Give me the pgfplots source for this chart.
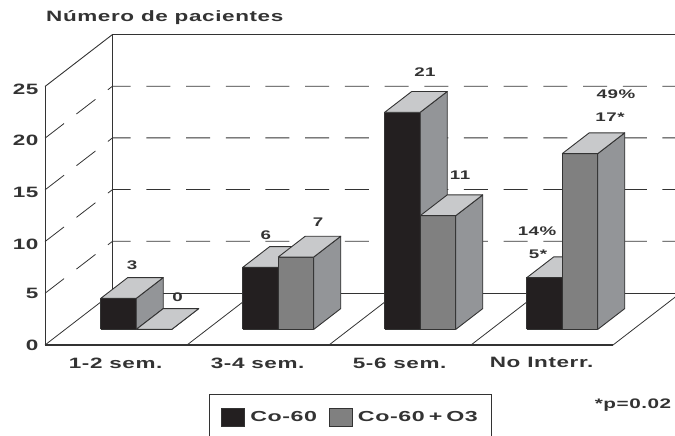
\documentclass[border=0pt]{standalone}
\usepackage{fontspec}
\setmainfont[FakeStretch=1.5,LetterSpace=4]{Liberation Sans}
\newfontfamily\legfont[FakeStretch=1.6,LetterSpace=4]{Liberation Sans}
\usepackage{pgfplots}
\pgfplotsset{compat=1.18}
\definecolor{cblack}{HTML}{231F20}
\definecolor{cgray}{HTML}{808080}
\definecolor{ctop}{HTML}{C8C9CB}
\definecolor{cside}{HTML}{939598}
\definecolor{cline}{HTML}{333333}
% #1,#2: x from/to; #3: value; #4: front colour
\newcommand{\threedbar}[4]{%
  \addplot3[forget plot,fill=#4,draw=cline,line width=0.9pt,line join=round] coordinates {(#1,0.3,0) (#2,0.3,0) (#2,0.3,#3) (#1,0.3,#3) (#1,0.3,0)};
  \addplot3[forget plot,fill=cside,draw=cline,line width=0.9pt,line join=round] coordinates {(#2,0.3,0) (#2,0.7,0) (#2,0.7,#3) (#2,0.3,#3) (#2,0.3,0)};
  \addplot3[forget plot,fill=ctop,draw=cline,line width=0.9pt,line join=round] coordinates {(#1,0.3,#3) (#2,0.3,#3) (#2,0.7,#3) (#1,0.7,#3) (#1,0.3,#3)};
}
\tikzset{lab/.style={font=\bfseries\fontsize{12.5}{14}\selectfont,text=cline}}
\begin{document}
\begin{tikzpicture}
\useasboundingbox (-45pt,-91pt) rectangle (630pt,345pt);
\begin{axis}[
  at={(0pt,0pt)},anchor=south west,
  x={(142pt,0pt)},y={(67.5pt,52pt)},z={(0pt,10.34pt)},
  xmin=0,xmax=4,ymin=0,ymax=1,zmin=0,zmax=25,
  clip=false,
  axis line style={draw=none},
  tick style={draw=none},
  major tick length=0pt,
  xtick={0.5,1.5,2.5,3.5},
  xticklabels={1-2 sem.,3-4 sem.,5-6 sem.,No Interr.},
  ytick=\empty,
  ztick={0,5,10,15,20,25},
  /pgf/number format/assume math mode=true,
  z tick label style={font=\bfseries\fontsize{15}{17}\selectfont,text=cline,xshift=-3pt,yshift=3pt},
  x tick label style={font=\bfseries\fontsize{15}{17}\selectfont,text=cline,xshift=4pt,yshift=-9pt},
  legend columns=2,
  legend cell align=left,
  legend style={at={(axis description cs:0.258,-0.158)},anchor=north west,
    draw=cline,line width=0.9pt,inner xsep=12pt,inner ysep=13pt,
    nodes={text depth=12pt},
    font=\legfont\bfseries\fontsize{14.5}{16}\selectfont,text=cline,
    /tikz/every even column/.append style={column sep=10pt},
    /tikz/every odd column/.append style={column sep=3pt}},
  legend image code/.code={\draw[#1] (0pt,-4pt) rectangle (23pt,14pt);},
]
% walls and floor
\addplot3[forget plot,draw=cline,line width=0.9pt] coordinates {(0,0,25) (0,1,25) (4,1,25)};
\addplot3[forget plot,draw=cline,line width=0.9pt] coordinates {(0,0,0) (0,0,25)};
\addplot3[forget plot,draw=cline,line width=0.9pt] coordinates {(0,1,0) (0,1,25)};
\addplot3[forget plot,draw=cline,line width=0.9pt] coordinates {(0,1,0) (4,1,0)};
\addplot3[forget plot,draw=cline,line width=1.1pt] coordinates {(0,0,0) (4,0,0)};
\addplot3[forget plot,draw=cline,line width=0.8pt] coordinates {(0,0,0) (0,1,0)};
\addplot3[forget plot,draw=cline,line width=0.8pt] coordinates {(1,0,0) (1,1,0)};
\addplot3[forget plot,draw=cline,line width=0.8pt] coordinates {(2,0,0) (2,1,0)};
\addplot3[forget plot,draw=cline,line width=0.8pt] coordinates {(3,0,0) (3,1,0)};
\addplot3[forget plot,draw=cline,line width=0.8pt] coordinates {(4,0,0) (4,1,0)};
% dashed level lines
\addplot3[forget plot,draw=cline,line width=0.8pt,dash pattern=on 24pt off 15.7pt] coordinates {(0,0,5) (0,1,5) (4,1,5)};
\addplot3[forget plot,draw=cline,line width=0.8pt,dash pattern=on 24pt off 15.7pt] coordinates {(0,0,10) (0,1,10) (4,1,10)};
\addplot3[forget plot,draw=cline,line width=0.8pt,dash pattern=on 24pt off 15.7pt] coordinates {(0,0,15) (0,1,15) (4,1,15)};
\addplot3[forget plot,draw=cline,line width=0.8pt,dash pattern=on 24pt off 15.7pt] coordinates {(0,0,20) (0,1,20) (4,1,20)};
% bars
\threedbar{0.25}{0.50}{3}{cblack}
\threedbar{0.50}{0.75}{0}{cgray}
\threedbar{1.25}{1.50}{6}{cblack}
\threedbar{1.50}{1.75}{7}{cgray}
\threedbar{2.25}{2.50}{21}{cblack}
\threedbar{2.50}{2.75}{11}{cgray}
\threedbar{3.25}{3.50}{5}{cblack}
\threedbar{3.50}{3.75}{17}{cgray}
% legend
\addlegendimage{fill=cblack,draw=cline,line width=0.9pt}
\addlegendentry{Co-60}
\addlegendimage{fill=cgray,draw=cline,line width=0.9pt}
\addlegendentry{Co-60\;+\;O3}
% value labels
\node[lab] at (axis cs:0.613,0,7.74) {3};
\node[lab] at (axis cs:0.933,0,4.64) {0};
\node[lab] at (axis cs:1.556,0,10.64) {6};
\node[lab] at (axis cs:1.923,0,11.9) {7};
\node[lab] at (axis cs:2.676,0,26.35) {21};
\node[lab] at (axis cs:2.923,0,16.44) {11};
\node[lab] at (axis cs:4.021,0,24.3) {49\%};
\node[lab] at (axis cs:3.979,0,22.05) {17*};
\node[lab] at (axis cs:3.465,0,11.03) {14\%};
\node[lab] at (axis cs:3.472,0,8.8) {5*};
\node[lab,anchor=west,inner sep=0pt,font=\bfseries\fontsize{15}{17}\selectfont] at (axis cs:0.007,0,31.7) {Número de pacientes};
\node[lab,font=\bfseries\fontsize{13.8}{16}\selectfont] at (axis cs:4.141,0,-5.8) {*p=0.02};
\end{axis}
\end{tikzpicture}
\end{document}
